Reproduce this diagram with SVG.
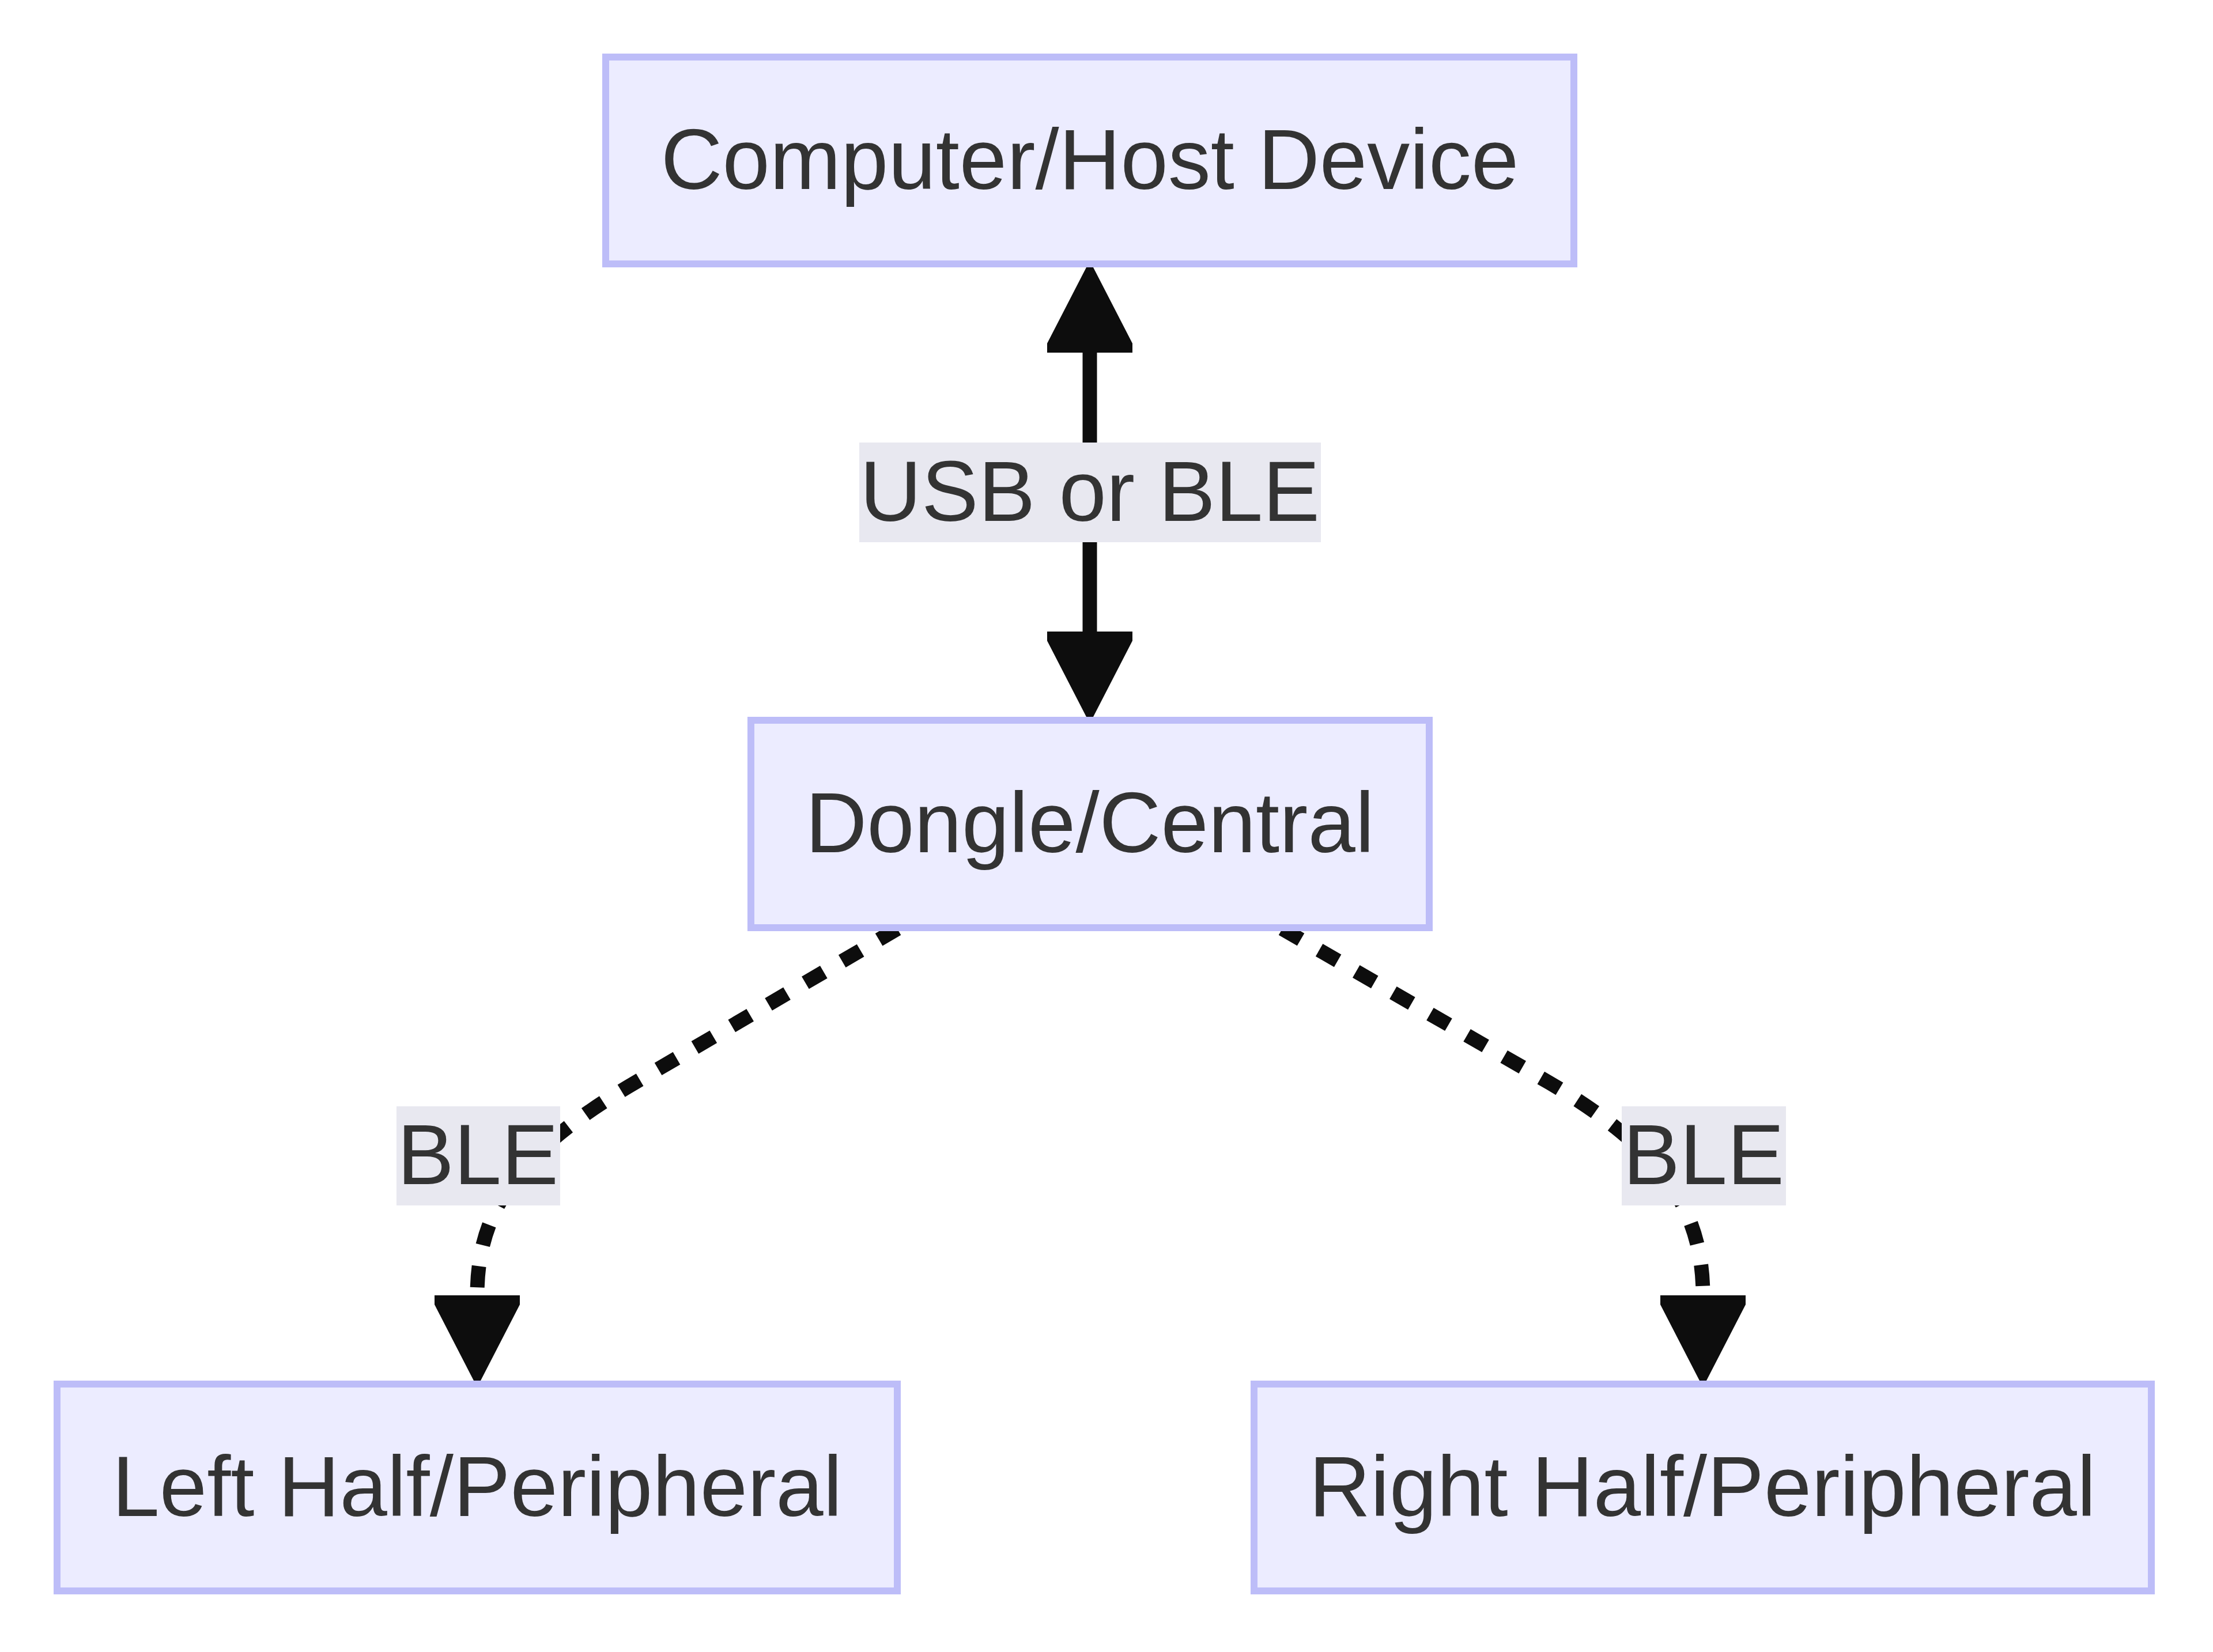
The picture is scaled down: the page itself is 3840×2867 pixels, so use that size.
<svg xmlns="http://www.w3.org/2000/svg" width="3840" height="2867" viewBox="0 0 3840 2867">
  <style>
    .node rect { fill: #ECECFF; stroke: #BDBDF8; stroke-width: 12; }
    .node text, .label text { font-family: "Liberation Sans", Arial, sans-serif; font-size: 148px; fill: #333333; text-anchor: middle; }
    .edge { fill: none; stroke: #0d0d0d; stroke-width: 25; }
    .dotted { stroke-dasharray: 37 37; }
    .label rect { fill: #E8E8F0; }
  </style>
  <defs>
    <marker id="arrow" viewBox="0 0 148 148" markerUnits="userSpaceOnUse" markerWidth="148" markerHeight="148" refX="0" refY="74" orient="auto-start-reverse">
      <polygon points="0,0 16,0 148,68 148,80 16,148 0,148" fill="#0d0d0d"/>
    </marker>
  </defs>
  <rect width="3840" height="2867" fill="#ffffff"/>
  <g id="edges">
    <path class="edge" d="M1891,612 L1891,1096" marker-start="url(#arrow)" marker-end="url(#arrow)"/>
    <path class="edge dotted" d="M1557,1612 L1100,1880 C900,1997 828,2100 828,2248" marker-end="url(#arrow)"/>
    <path class="edge dotted" d="M2225,1612 L2690,1880 C2885,1995 2955,2100 2955,2248" marker-end="url(#arrow)"/>
  </g>
  <g id="edge-labels">
    <g class="label" id="label-usb">
      <rect x="1491" y="768" width="801" height="173"/>
      <text x="1891" y="904">USB or BLE</text>
    </g>
    <g class="label" id="label-ble-left">
      <rect x="688" y="1920" width="284" height="172"/>
      <text x="829" y="2055">BLE</text>
    </g>
    <g class="label" id="label-ble-right">
      <rect x="2814" y="1920" width="285" height="172"/>
      <text x="2956" y="2055">BLE</text>
    </g>
  </g>
  <g class="node" id="host">
    <rect x="1051" y="99" width="1680" height="359"/>
    <text x="1891" y="328">Computer/Host Device</text>
  </g>
  <g class="node" id="dongle">
    <rect x="1303" y="1250" width="1177" height="360"/>
    <text x="1891" y="1479">Dongle/Central</text>
  </g>
  <g class="node" id="left">
    <rect x="99" y="2402" width="1458" height="359"/>
    <text x="828" y="2631">Left Half/Peripheral</text>
  </g>
  <g class="node" id="right">
    <rect x="2176" y="2402" width="1557" height="359"/>
    <text x="2954" y="2631">Right Half/Peripheral</text>
  </g>
</svg>
